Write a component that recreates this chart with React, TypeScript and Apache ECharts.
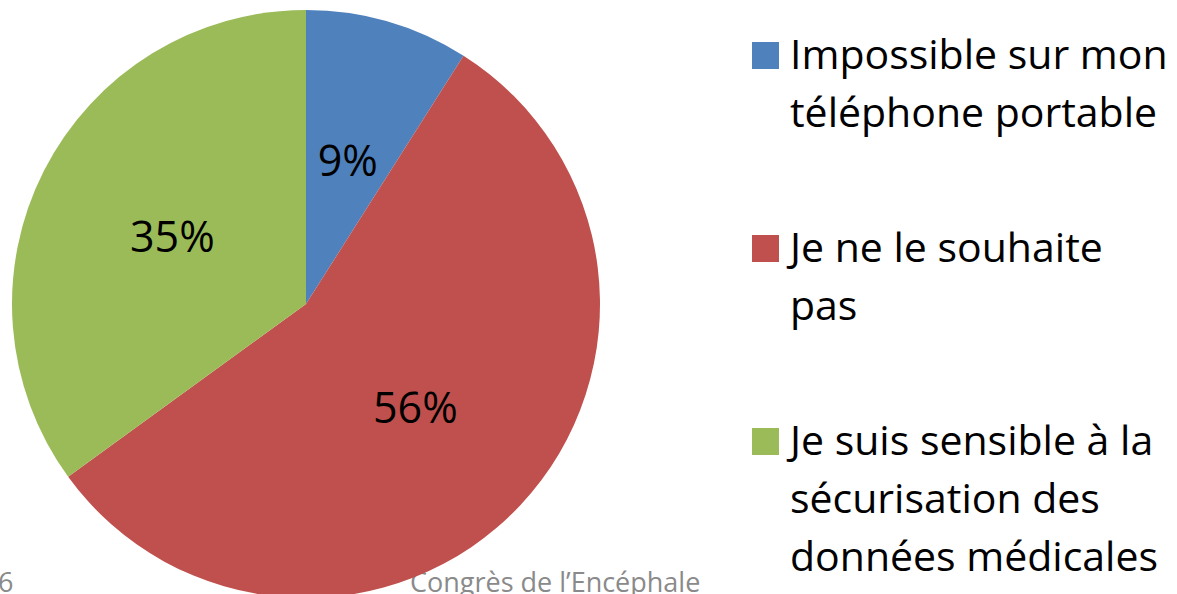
import React, { useEffect, useRef } from "react";
import * as echarts from "echarts";

const categories = [
  "Impossible sur mon\ntéléphone portable",
  "Je ne le souhaite\npas",
  "Je suis sensible à la\nsécurisation des\ndonnées médicales",
];
const values = [9, 56, 35];
const colors = ["#4F81BD", "#C0504D", "#9BBB59"];
const footerPage = "6";
const footerText = "Congrès de l’Encéphale";

const FONT = "'Open Sans', Lato, sans-serif";

export default function App() {
  const ref = useRef<HTMLDivElement>(null);
  useEffect(() => {
    if (!ref.current) return;
    const chart = echarts.init(ref.current, null, { renderer: "svg" });
    const legendTops = [24, 217, 410];
    const legendGraphics = categories.map((name, i) => ({
      type: "group",
      left: 752,
      top: legendTops[i],
      children: [
        {
          type: "rect",
          shape: { x: 0, y: 18, width: 27, height: 27 },
          style: { fill: colors[i] },
        },
        {
          type: "text",
          x: 38,
          y: 0,
          style: {
            text: name,
            font: `41px ${FONT}`,
            fill: "#000",
            lineHeight: 58,
            textVerticalAlign: "top",
          },
        },
      ],
    }));
    chart.setOption({
      animation: false,
      backgroundColor: "#fff",
      series: [
        {
          type: "pie",
          center: [306, 304],
          radius: [0, 294],
          startAngle: 90,
          clockwise: true,
          data: categories.map((n, i) => ({
            name: n,
            value: values[i],
            itemStyle: { color: colors[i] },
          })),
          label: {
            show: true,
            position: "inside",
            formatter: (p: any) => `${Math.round(p.percent)}%`,
            fontFamily: FONT,
            fontSize: 43,
            color: "#000",
          },
          labelLine: { show: false },
          emphasis: { disabled: true },
        },
      ],
      graphic: [
        ...legendGraphics,
        {
          type: "text",
          left: -2,
          top: 568,
          style: { text: footerPage, font: `27px ${FONT}`, fill: "#8a8a8a" },
        },
        {
          type: "text",
          left: 410,
          top: 568,
          style: { text: footerText, font: `27px ${FONT}`, fill: "#8a8a8a" },
        },
      ],
    });
    return () => chart.dispose();
  }, []);
  return (
    <div
      ref={ref}
      style={{ position: "fixed", left: 0, top: 0, width: 1177, height: 594 }}
    />
  );
}
